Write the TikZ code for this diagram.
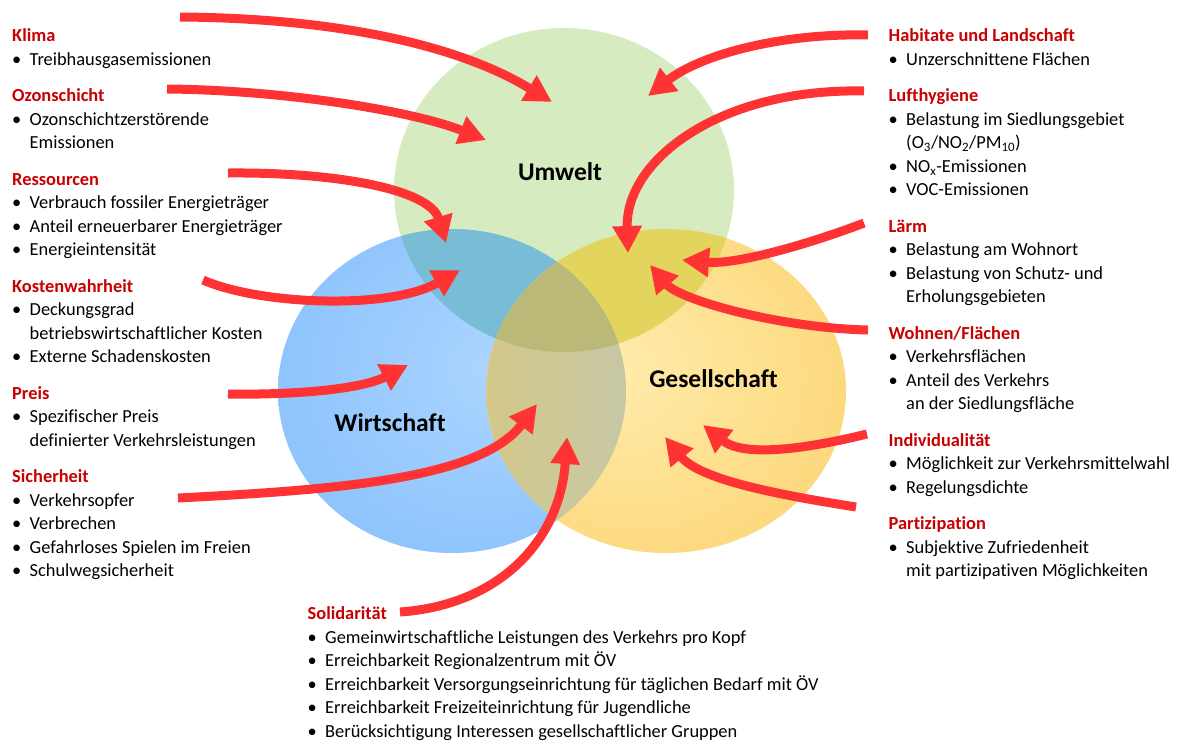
\documentclass[tikz,border=0pt]{standalone}
\usepackage{fontspec}
\setmainfont{Carlito}[Ligatures={NoCommon}]
\usetikzlibrary{arrows.meta}

\definecolor{arrowred}{RGB}{255,51,51}
\definecolor{hdrred}{RGB}{200,0,0}
\definecolor{grnfill}{RGB}{214,236,192}
\definecolor{gbfill}{RGB}{121,188,214}
\definecolor{gyfill}{RGB}{226,212,92}
\definecolor{byleft}{RGB}{212,200,138}
\definecolor{byright}{RGB}{198,200,164}
\definecolor{gbyfill}{RGB}{186,185,120}

% soft radial fills of the two lower ellipses
\pgfdeclareradialshading{blueball}{\pgfpoint{8bp}{4bp}}{rgb(0bp)=(0.68,0.84,1); rgb(27bp)=(0.56,0.77,0.99); rgb(50bp)=(0.56,0.77,0.99)}
\pgfdeclareradialshading{yellowball}{\pgfpoint{-8bp}{4bp}}{rgb(0bp)=(1,0.925,0.68); rgb(29bp)=(0.99,0.85,0.49); rgb(50bp)=(0.99,0.85,0.49)}

% list helpers: red header, bullet item, continuation line
\newcommand\hdr[1]{\rule{0pt}{15pt}{\color{hdrred}\bfseries #1}}
\newcommand\itm[1]{\makebox[17.5pt][l]{\textbullet}#1}
\newcommand\cnt[1]{\hspace*{17.5pt}#1}

\begin{document}
\begin{tikzpicture}[x=1pt,y=-1pt,
  ellG/.style={insert path={(564,190) ellipse [x radius=170, y radius=162]}},
  ellB/.style={insert path={(452,391) ellipse [x radius=174, y radius=162]}},
  ellY/.style={insert path={(666,391) ellipse [x radius=180, y radius=162]}},
  flow/.style={draw=arrowred, line width=9pt, -{Triangle[length=27pt,width=28pt]}},
  grp/.style={anchor=north west, inner sep=0pt, align=left, font=\fontsize{18.4}{23.5}\selectfont},
  circlabel/.style={anchor=base, inner sep=0pt, font=\fontsize{25.5}{30}\selectfont\bfseries}]

\fill[white] (0,0) rectangle (1185,740);
\useasboundingbox (0,0) rectangle (1185,740);

% the three ellipses
\fill[grnfill, ellG];
\shade[shading=blueball, ellB];
\shade[shading=yellowball, ellY];

% overlaps
\begin{scope}
  \clip[ellG];
  \fill[gbfill, ellB];
\end{scope}
\begin{scope}
  \clip[ellG];
  \fill[gyfill, ellY];
\end{scope}
\begin{scope}
  \clip[ellB];
  \clip[ellY];
  \shade[left color=byleft, right color=byright] (486,229) rectangle (626,553);
\end{scope}
\begin{scope}
  \clip[ellG];
  \clip[ellB];
  \fill[gbyfill, ellY];
\end{scope}

% circle titles
\node[circlabel] (umwelt) at (560,180.5) {Umwelt};
\node[circlabel] (wirtschaft) at (390,431.5) {Wirtschaft};
\node[circlabel] (gesellschaft) at (713.5,387) {Gesellschaft};

% left column
\node[grp] (klima) at (12,26.7) {\hdr{Klima}\\ \itm{Treibhausgasemissionen}};
\node[grp] (ozon) at (12,86.7) {\hdr{Ozonschicht}\\ \itm{Ozonschichtzerstörende}\\ \cnt{Emissionen}};
\node[grp] (ress) at (12,170.2) {\hdr{Ressourcen}\\ \itm{Verbrauch fossiler Energieträger}\\ \itm{Anteil erneuerbarer Energieträger}\\ \itm{Energieintensität}};
\node[grp] (kosten) at (12,277.2) {\hdr{Kostenwahrheit}\\ \itm{Deckungsgrad}\\ \cnt{betriebswirtschaftlicher Kosten}\\ \itm{Externe Schadenskosten}};
\node[grp] (preis) at (12,384.2) {\hdr{Preis}\\ \itm{Spezifischer Preis}\\ \cnt{definierter Verkehrsleistungen}};
\node[grp] (sicher) at (12,467.7) {\hdr{Sicherheit}\\ \itm{Verkehrsopfer}\\ \itm{Verbrechen}\\ \itm{Gefahrloses Spielen im Freien}\\ \itm{Schulwegsicherheit}};

% right column
\node[grp] (habitat) at (888.5,26.7) {\hdr{Habitate und Landschaft}\\ \itm{Unzerschnittene Flächen}};
\node[grp] (luft) at (888.5,86.7) {\hdr{Lufthygiene}\\ \itm{Belastung im Siedlungsgebiet}\\ \cnt{(O\textsubscript{3}/NO\textsubscript{2}/PM\textsubscript{10})}\\ \itm{NO\textsubscript{x}-Emissionen}\\ \itm{VOC-Emissionen}};
\node[grp] (laerm) at (888.5,217.2) {\hdr{Lärm}\\ \itm{Belastung am Wohnort}\\ \itm{Belastung von Schutz- und}\\ \cnt{Erholungsgebieten}};
\node[grp] (wohnen) at (888.5,324.2) {\hdr{Wohnen/Flächen}\\ \itm{Verkehrsflächen}\\ \itm{Anteil des Verkehrs}\\ \cnt{an der Siedlungsfläche}};
\node[grp] (indiv) at (888.5,431.2) {\hdr{Individualität}\\ \itm{Möglichkeit zur Verkehrsmittelwahl}\\ \itm{Regelungsdichte}};
\node[grp] (partiz) at (888.5,514.7) {\hdr{Partizipation}\\ \itm{Subjektive Zufriedenheit}\\ \cnt{mit partizipativen Möglichkeiten}};

% bottom block
\node[grp] (soli) at (307.5,604.5) {\hdr{Solidarität}\\ \itm{Gemeinwirtschaftliche Leistungen des Verkehrs pro Kopf}\\ \itm{Erreichbarkeit Regionalzentrum mit ÖV}\\ \itm{Erreichbarkeit Versorgungseinrichtung für täglichen Bedarf mit ÖV}\\ \itm{Erreichbarkeit Freizeiteinrichtung für Jugendliche}\\ \itm{Berücksichtigung Interessen gesellschaftlicher Gruppen}};

% arrow ends
\coordinate (klimaT) at (180,17);   \coordinate (klimaH) at (552,102);
\coordinate (ozonT) at (167,89);    \coordinate (ozonH) at (486,140);
\coordinate (ressT) at (228,173);   \coordinate (ressH) at (446,243);
\coordinate (kostenT) at (203,280); \coordinate (kostenH) at (460,270);
\coordinate (preisT) at (228,394);  \coordinate (preisH) at (408,365);
\coordinate (sicherT) at (178,498); \coordinate (sicherH) at (537,404);
\coordinate (soliT) at (400,612);   \coordinate (soliH) at (567,437);
\coordinate (habitatT) at (868,35); \coordinate (habitatH) at (648,96);
\coordinate (luftT) at (864,91);    \coordinate (luftH) at (628,253);
\coordinate (laermT) at (864,223);  \coordinate (laermH) at (682,260);
\coordinate (wohnenT) at (868,330); \coordinate (wohnenH) at (650,265);
\coordinate (indivT) at (867,434);  \coordinate (indivH) at (703,425);
\coordinate (partizT) at (856,507); \coordinate (partizH) at (665,437);

% arrows
\draw[flow] (klimaT) .. controls (320,18) and (450,40) .. (klimaH);
\draw[flow] (ozonT) .. controls (280,90) and (410,110) .. (ozonH);
\draw[flow] (ressT) .. controls (340,172) and (430,190) .. (ressH);
\draw[flow] (kostenT) .. controls (260,305) and (390,310) .. (kostenH);
\draw[flow] (preisT) .. controls (290,395) and (360,390) .. (preisH);
\draw[flow] (sicherT) .. controls (330,490) and (480,480) .. (sicherH);
\draw[flow] (soliT) .. controls (500,605) and (560,540) .. (soliH);
\draw[flow] (habitatT) .. controls (780,33) and (700,55) .. (habitatH);
\draw[flow] (luftT) .. controls (720,88) and (625,160) .. (luftH);
\draw[flow] (laermT) .. controls (820,240) and (740,265) .. (laermH);
\draw[flow] (wohnenT) .. controls (780,328) and (680,300) .. (wohnenH);
\draw[flow] (indivT) .. controls (810,448) and (745,458) .. (indivH);
\draw[flow] (partizT) .. controls (780,495) and (700,480) .. (partizH);
\end{tikzpicture}
\end{document}
